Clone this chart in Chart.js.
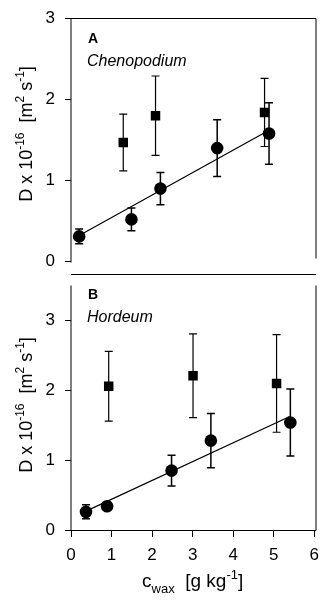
<!DOCTYPE html>
<html>
<head>
<meta charset="utf-8">
<script src="https://cdn.jsdelivr.net/npm/chart.js@4.4.0/dist/chart.umd.min.js"></script>
<style>
  html, body { margin: 0; padding: 0; background: #fff; overflow: hidden; }
  #wrap { position: relative; width: 323px; height: 604px; overflow: hidden; }
  canvas { position: absolute; left: 0; }
</style>
</head>
<body>
<div id="wrap">
  <canvas id="chart-a" width="323" height="280" style="top:0px"></canvas>
  <canvas id="chart-b" width="329" height="348" style="top:256px"></canvas>
</div>
<script>
// x axis ticks (shared)
const xTicks = [0, 1, 2, 3, 4, 5, 6];

// Panel A - Chenopodium
const aCircleX = [0.2, 1.48, 2.19, 3.58, 4.85];
const aCircleY = [0.31, 0.52, 0.90, 1.40, 1.58];
const aCircleErr = [0.09, 0.14, 0.20, 0.35, 0.38];
const aSquareX = [1.28, 2.07, 4.74];
const aSquareY = [1.47, 1.80, 1.84];
const aSquareErr = [0.35, 0.49, 0.42];
const aFitX = [0.2, 4.85];
const aFitY = [0.32, 1.62];

// Panel B - Hordeum
const bCircleX = [0.37, 0.89, 2.48, 3.45, 5.41];
const bCircleY = [0.26, 0.34, 0.85, 1.28, 1.54];
const bCircleErr = [0.10, 0.05, 0.22, 0.39, 0.48];
const bSquareX = [0.93, 3.01, 5.07];
const bSquareY = [2.06, 2.21, 2.10];
const bSquareErr = [0.50, 0.60, 0.70];
const bFitX = [0.37, 5.41];
const bFitY = [0.27, 1.63];

const FONT = 'Liberation Sans, Arial, Helvetica, sans-serif';
Chart.defaults.font.family = FONT;
Chart.defaults.color = '#000';

const pts = (xs, ys) => xs.map((x, i) => ({ x: x, y: ys[i] }));

// draw a string made of normal / superscript / subscript pieces
function drawRich(ctx, parts, x, y, size) {
  const fontOf = k => (k === 'n' ? size : Math.round(size * 0.68)) + 'px ' + FONT;
  let w = 0;
  parts.forEach(p => { ctx.font = fontOf(p[1]); w += ctx.measureText(p[0]).width; });
  let cx = x - w / 2;
  ctx.textAlign = 'left';
  ctx.textBaseline = 'alphabetic';
  parts.forEach(p => {
    ctx.font = fontOf(p[1]);
    const dy = p[1] === 'sup' ? -size * 0.42 : p[1] === 'sub' ? size * 0.3 : 0;
    ctx.fillText(p[0], cx, y + dy);
    cx += ctx.measureText(p[0]).width;
  });
}

const yTitle = [['D x 10', 'n'], ['-16', 'sup'], ['  [m', 'n'], ['2', 'sup'], [' s', 'n'], ['-1', 'sup'], [']', 'n']];
const xTitle = [['c', 'n'], ['wax', 'sub'], ['  [g kg', 'n'], ['-1', 'sup'], [']', 'n']];

// error bars behind the markers
const errorBars = {
  id: 'errorBars',
  beforeDatasetsDraw(chart) {
    const ctx = chart.ctx, xs = chart.scales.x, ys = chart.scales.y;
    chart.data.datasets.forEach(ds => {
      if (!ds.errors) return;
      ctx.save();
      ctx.strokeStyle = '#000';
      ctx.lineWidth = ds.errWidth;
      ds.data.forEach((p, i) => {
        const px = xs.getPixelForValue(p.x);
        const top = ys.getPixelForValue(p.y + ds.errors[i]);
        const bot = ys.getPixelForValue(p.y - ds.errors[i]);
        ctx.beginPath();
        ctx.moveTo(px, top); ctx.lineTo(px, bot);
        ctx.moveTo(px - 4, top); ctx.lineTo(px + 4, top);
        ctx.moveTo(px - 4, bot); ctx.lineTo(px + 4, bot);
        ctx.stroke();
      });
      ctx.restore();
    });
  }
};

// frame lines, panel letter, species name and axis titles
const decor = {
  id: 'decor',
  afterDraw(chart, args, o) {
    const ctx = chart.ctx, a = chart.chartArea;
    ctx.save();
    ctx.strokeStyle = '#000';
    ctx.lineWidth = 1;
    ctx.beginPath();
    o.lines.forEach(l => {
      ctx.moveTo(a.left + l[0], a.top + l[1]);
      ctx.lineTo(a.left + l[2], a.top + l[3]);
    });
    ctx.stroke();
    ctx.fillStyle = '#000';
    ctx.textAlign = 'left';
    ctx.textBaseline = 'alphabetic';
    ctx.font = 'bold 14px ' + FONT;
    ctx.fillText(o.letter, a.left + 17, a.top + 24);
    ctx.font = 'italic 16px ' + FONT;
    ctx.fillText(o.species, a.left + 16, a.top + 47);
    ctx.save();
    ctx.translate(26, o.yTitleMid);
    ctx.rotate(-Math.PI / 2);
    drawRich(ctx, yTitle, 0, 6, 18);
    ctx.restore();
    if (o.xTitle) drawRich(ctx, xTitle, (a.left + a.right) / 2, a.bottom + 57, 19);
    ctx.restore();
  }
};

function makeChart(id, circles, circleErr, squares, squareErr, fit, opts) {
  return new Chart(document.getElementById(id), {
    type: 'scatter',
    data: {
      datasets: [
        { data: fit, showLine: true, borderColor: '#000', borderWidth: 1.2, pointRadius: 0 },
        { data: squares, errors: squareErr, errWidth: 1.2, pointStyle: 'rect', pointRadius: 6.7,
          backgroundColor: '#000', borderColor: '#000', borderWidth: 0 },
        { data: circles, errors: circleErr, errWidth: 1.5, pointStyle: 'circle', pointRadius: 6.3,
          backgroundColor: '#000', borderColor: '#000', borderWidth: 0 }
      ]
    },
    options: {
      responsive: false,
      animation: false,
      devicePixelRatio: 1,
      layout: { padding: opts.padding },
      plugins: {
        legend: { display: false },
        tooltip: { enabled: false },
        decor: opts.decor
      },
      scales: {
        x: {
          type: 'linear', min: 0, max: 6,
          display: opts.showX,
          afterBuildTicks: s => { s.ticks = xTicks.map(v => ({ value: v })); },
          afterFit: s => { if (opts.showX) s.height = 74; },
          border: { display: false },
          grid: { drawOnChartArea: false, drawTicks: true, tickLength: 7, color: '#000' },
          ticks: { font: { size: 17, lineHeight: 1 }, padding: 10, color: '#000' }
        },
        y: {
          type: 'linear', min: 0, max: opts.yMax,
          afterFit: s => { s.width = 71; },
          border: { display: false },
          grid: { drawOnChartArea: false, drawTicks: true, tickLength: 6, color: '#000' },
          ticks: { stepSize: 1, includeBounds: false, font: { size: 17, lineHeight: 1 }, padding: 10, color: '#000' }
        }
      }
    },
    plugins: [errorBars, decor]
  });
}

makeChart('chart-a', pts(aCircleX, aCircleY), aCircleErr, pts(aSquareX, aSquareY), aSquareErr, pts(aFitX, aFitY), {
  padding: { top: 18, right: 7, bottom: 18, left: 0 },
  yMax: 3,
  showX: false,
  decor: {
    letter: 'A', species: 'Chenopodium', yTitleMid: 134,
    lines: [[0, 0, 0, 244], [0, 0, 245, 0], [245, 0, 245, 240], [0, 256, 245, 256]]
  }
});

makeChart('chart-b', pts(bCircleX, bCircleY), bCircleErr, pts(bSquareX, bSquareY), bSquareErr, pts(bFitX, bFitY), {
  padding: { top: 18, right: 0, bottom: 0, left: 0 },
  yMax: 3.66,
  showX: true,
  decor: {
    letter: 'B', species: 'Hordeum', yTitleMid: 405 - 256, xTitle: true,
    lines: [[0, 11, 0, 256], [245, 11, 245, 256], [0, 256, 245, 256]]
  }
});
</script>
</body>
</html>
